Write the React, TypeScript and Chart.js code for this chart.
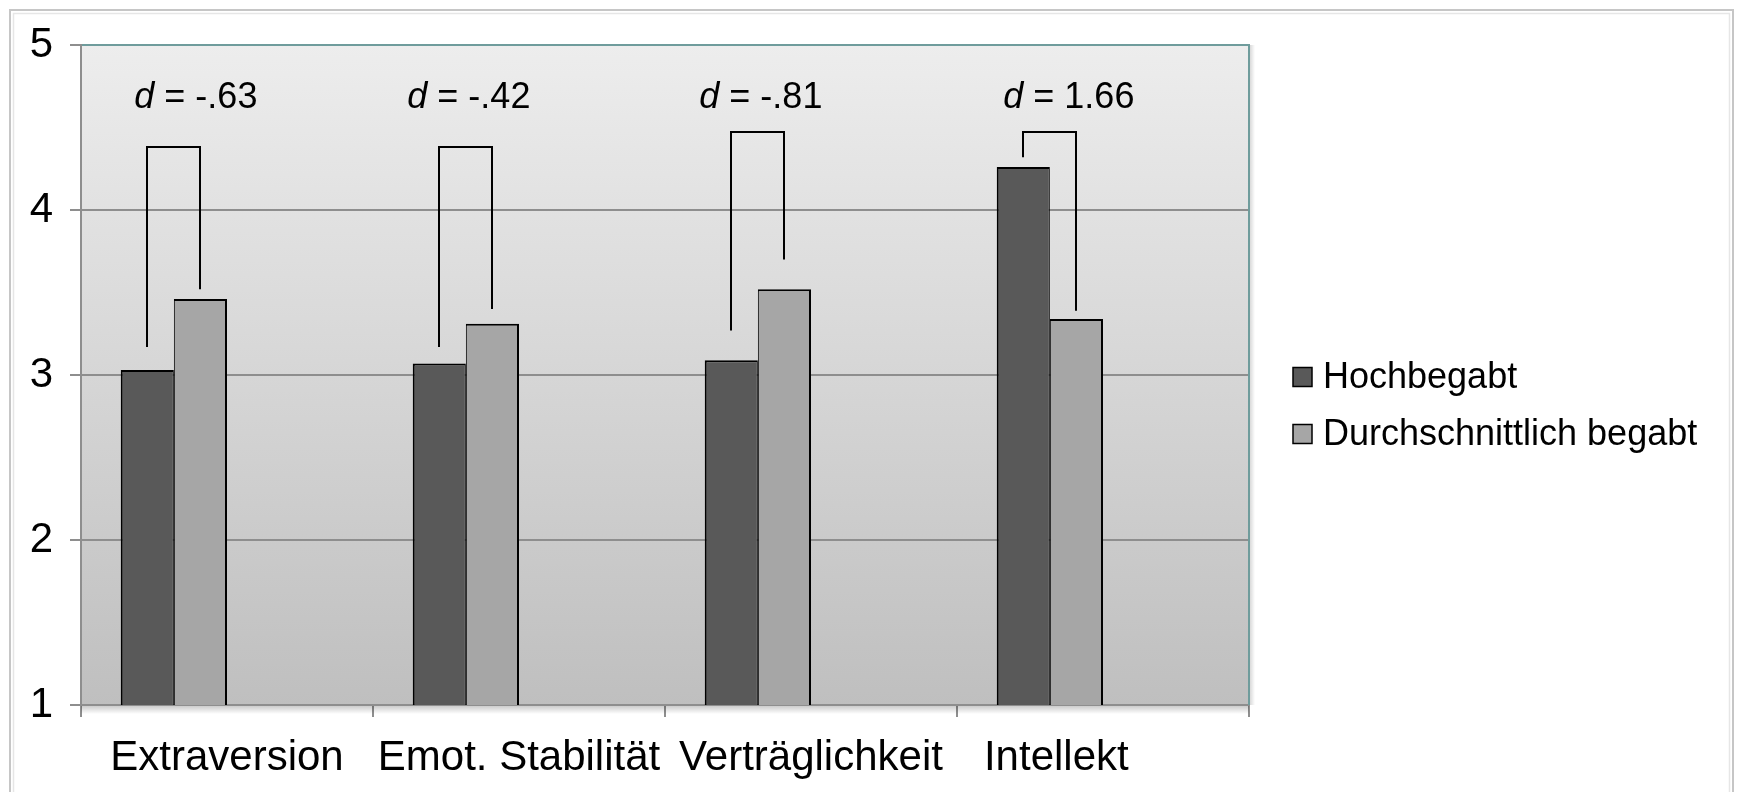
import { useEffect, useRef } from 'react';
import { Chart, registerables } from 'chart.js';

Chart.register(...registerables);

// Category labels (the last one carries trailing spaces so it centres further left)
const categories = ['Extraversion', 'Emot. Stabilität', 'Verträglichkeit', 'Intellekt        '];
const seriesNames = ['Hochbegabt', 'Durchschnittlich begabt'];
const hochbegabt = [3.03, 3.07, 3.09, 4.26];
const durchschnittlich = [3.46, 3.31, 3.52, 3.34];
// Effect sizes written above each pair
const effectSizes = ['-.63', '-.42', '-.81', '1.66'];
// Bracket geometry in axis units: crossbar level, left leg end, right leg end
const bracketTop = [4.38, 4.38, 4.47, 4.47];
const bracketLeftEnd = [3.17, 3.17, 3.27, 4.32];
const bracketRightEnd = [3.52, 3.4, 3.7, 3.39];
const yTicks = [1, 2, 3, 4, 5];
const effectLabelLevel = 4.62;

const FONT = '"Liberation Sans", Arial, Helvetica, sans-serif';
const DARK = '#595959';
const LIGHT = '#a6a6a6';
const GRID = '#8e8e8e';
const FRAME = '#6f9c9c';
// horizontal nudge (px) of each effect label relative to its bar pair
const labelNudge = [22, 3, 3, 19];

const decor = {
  id: 'decor',
  beforeDraw(chart: any) {
    const { ctx, chartArea: a, width, height } = chart;
    ctx.save();
    ctx.fillStyle = '#ffffff';
    ctx.fillRect(0, 0, width, height);
    // outer frame
    ctx.strokeStyle = '#c6c6c6';
    ctx.lineWidth = 2;
    ctx.strokeRect(10, 10, 1723, 800);
    ctx.strokeStyle = '#e6e6e6';
    ctx.lineWidth = 1.5;
    ctx.strokeRect(13.5, 13.5, 1716, 800);
    // plot area fill
    const g = ctx.createLinearGradient(0, a.top, 0, a.bottom);
    g.addColorStop(0, '#ededed');
    g.addColorStop(1, '#bfbfbf');
    ctx.fillStyle = g;
    ctx.fillRect(a.left, a.top, a.right - a.left, a.bottom - a.top);
    ctx.restore();
  },
  afterDatasetsDraw(chart: any) {
    const { ctx } = chart;
    const y = chart.scales.y;
    const m0 = chart.getDatasetMeta(0).data;
    const m1 = chart.getDatasetMeta(1).data;
    ctx.save();
    ctx.strokeStyle = '#000000';
    ctx.lineWidth = 2;
    ctx.lineCap = 'butt';
    ctx.lineJoin = 'miter';
    for (let i = 0; i < categories.length; i++) {
      const x1 = Math.round(m0[i].x);
      const x2 = Math.round(m1[i].x);
      const yT = Math.round(y.getPixelForValue(bracketTop[i]));
      ctx.beginPath();
      ctx.moveTo(x1, y.getPixelForValue(bracketLeftEnd[i]));
      ctx.lineTo(x1, yT);
      ctx.lineTo(x2, yT);
      ctx.lineTo(x2, y.getPixelForValue(bracketRightEnd[i]));
      ctx.stroke();

      // "d = ..." label, italic d
      const left = m0[i].x - m0[i].width / 2;
      const right = m1[i].x + m1[i].width / 2;
      const cx = (left + right) / 2 + labelNudge[i];
      const italic = `italic 36px ${FONT}`;
      const plain = `36px ${FONT}`;
      const rest = ' = ' + effectSizes[i];
      ctx.font = italic;
      const wd = ctx.measureText('d').width;
      ctx.font = plain;
      const wr = ctx.measureText(rest).width;
      const sx = cx - (wd + wr) / 2;
      const by = y.getPixelForValue(effectLabelLevel);
      ctx.fillStyle = '#000000';
      ctx.textBaseline = 'alphabetic';
      ctx.textAlign = 'left';
      ctx.font = italic;
      ctx.fillText('d', sx, by);
      ctx.font = plain;
      ctx.fillText(rest, sx + wd, by);
    }
    ctx.restore();
  },
  afterDraw(chart: any) {
    const { ctx, chartArea: a } = chart;
    ctx.save();
    // right edge of the plot frame with a soft shadow
    const sg = ctx.createLinearGradient(a.right, 0, a.right + 6, 0);
    sg.addColorStop(0, 'rgba(0,0,0,0.18)');
    sg.addColorStop(1, 'rgba(0,0,0,0)');
    ctx.fillStyle = sg;
    ctx.fillRect(a.right + 1, a.top, 6, a.bottom - a.top);
    ctx.strokeStyle = FRAME;
    ctx.lineWidth = 2;
    ctx.beginPath();
    ctx.moveTo(a.right, a.top - 1);
    ctx.lineTo(a.right, a.bottom);
    ctx.stroke();
    // shadow under the category axis
    const bg = ctx.createLinearGradient(0, a.bottom + 1, 0, a.bottom + 9);
    bg.addColorStop(0, 'rgba(0,0,0,0.2)');
    bg.addColorStop(1, 'rgba(0,0,0,0)');
    ctx.fillStyle = bg;
    ctx.fillRect(a.left, a.bottom + 1, a.right - a.left, 8);

    // legend
    const colors = [DARK, LIGHT];
    const rows = [377, 434];
    ctx.font = `36px ${FONT}`;
    ctx.textBaseline = 'middle';
    ctx.textAlign = 'left';
    seriesNames.forEach((name, i) => {
      const cy = rows[i];
      ctx.fillStyle = colors[i];
      ctx.fillRect(1293, cy - 9.5, 19, 19);
      ctx.strokeStyle = '#000000';
      ctx.lineWidth = 1.5;
      ctx.strokeRect(1293, cy - 9.5, 19, 19);
      ctx.fillStyle = '#000000';
      ctx.fillText(name, 1323, cy + 1);
    });
    ctx.restore();
  },
};

export default function App() {
  const ref = useRef<HTMLCanvasElement | null>(null);

  useEffect(() => {
    if (!ref.current) return;
    const chart = new Chart(ref.current, {
      type: 'bar',
      data: {
        labels: categories,
        datasets: [
          {
            label: seriesNames[0],
            data: hochbegabt,
            backgroundColor: DARK,
            borderColor: '#000000',
            borderWidth: { top: 2, left: 2, right: 1, bottom: 0 },
            borderSkipped: false,
          },
          {
            label: seriesNames[1],
            data: durchschnittlich,
            backgroundColor: LIGHT,
            borderColor: '#000000',
            borderWidth: { top: 2, left: 1, right: 2, bottom: 0 },
            borderSkipped: false,
          },
          // two empty series reserve slots so each pair sits left in its category
          { label: '', data: [null, null, null, null] },
          { label: '', data: [null, null, null, null] },
        ],
      },
      options: {
        responsive: false,
        animation: false,
        events: [],
        layout: { padding: { top: 45, right: 490, left: 0, bottom: 0 } },
        plugins: { legend: { display: false }, tooltip: { enabled: false } },
        datasets: { bar: { categoryPercentage: 0.728, barPercentage: 1 } },
        scales: {
          x: {
            grid: {
              offset: true,
              drawOnChartArea: false,
              drawTicks: true,
              tickLength: 12,
              color: GRID,
              lineWidth: 2,
            },
            border: { color: GRID, width: 2 },
            ticks: {
              font: { family: FONT, size: 42 },
              color: '#000000',
              padding: 16,
              maxRotation: 0,
              autoSkip: false,
            },
            afterFit: (s: any) => {
              s.height = 87;
            },
          },
          y: {
            min: 1,
            max: 5,
            afterBuildTicks: (s: any) => {
              s.ticks = yTicks.map((v) => ({ value: v }));
            },
            ticks: {
              font: { family: FONT, size: 42 },
              color: '#000000',
              padding: 17,
            },
            grid: {
              color: (c: any) => (c.tick && c.tick.value === 5 ? FRAME : GRID),
              tickColor: GRID,
              lineWidth: 2,
              tickLength: 11,
            },
            border: { color: GRID, width: 2 },
            afterFit: (s: any) => {
              s.width = 81;
            },
          },
        },
      },
      plugins: [decor],
    });
    return () => chart.destroy();
  }, []);

  return (
    <div style={{ position: 'absolute', left: 0, top: 0, width: 1739, height: 792 }}>
      <canvas ref={ref} width={1739} height={792} style={{ display: 'block' }} />
    </div>
  );
}
